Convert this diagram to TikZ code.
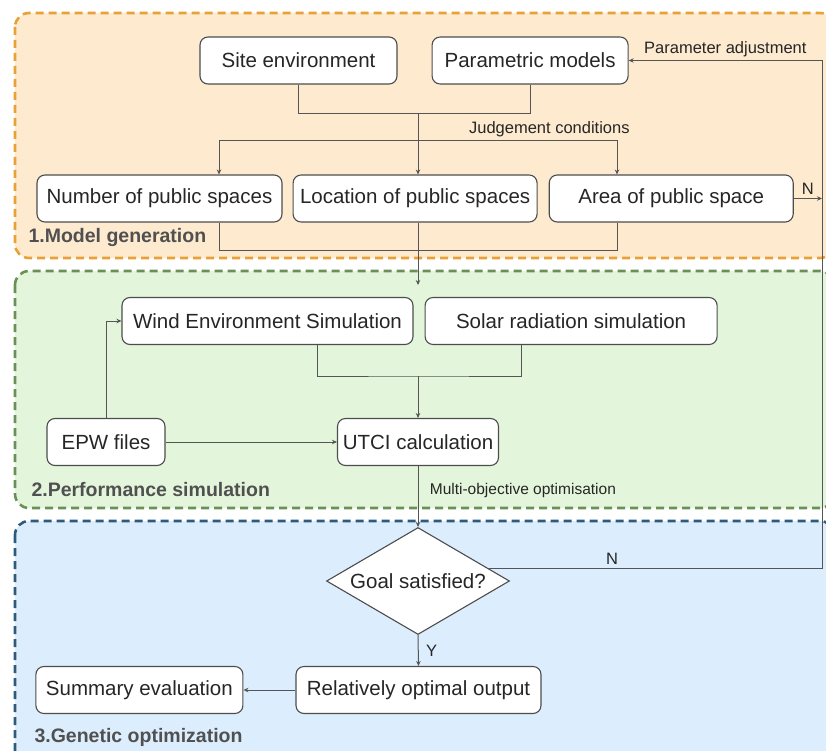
\documentclass[tikz,border=0pt]{standalone}
\usepackage{fontspec}
\setmainfont{Liberation Sans}
\usetikzlibrary{arrows.meta,positioning,shapes.geometric}

\definecolor{orangefill}{HTML}{FDEACF}
\definecolor{orangeline}{HTML}{E8A136}
\definecolor{greenfill}{HTML}{E3F6DB}
\definecolor{greenline}{HTML}{6A9058}
\definecolor{bluefill}{HTML}{DCEEFD}
\definecolor{blueline}{HTML}{2E5A7C}
\definecolor{boxline}{HTML}{4D4D4D}
\definecolor{flowline}{HTML}{555555}
\definecolor{paneltext}{HTML}{505050}

\tikzset{
  block/.style={draw=boxline, line width=1.1pt, rounded corners=8pt, fill=white,
    minimum height=47pt, inner sep=2pt, text=black!85,
    font=\fontsize{20.5}{24}\selectfont},
  decision/.style={diamond, aspect=1.71, draw=boxline, line width=1.1pt, fill=white,
    minimum width=183pt, minimum height=107pt, inner sep=0pt, text=black!85,
    font=\fontsize{20.5}{24}\selectfont},
  panel/.style={line width=2.6pt, dash pattern=on 8pt off 5pt, rounded corners=14pt},
  panellabel/.style={anchor=west, text=paneltext,
    font=\bfseries\fontsize{19.5}{22}\selectfont},
  note/.style={text=black!85, font=\fontsize{16.5}{20}\selectfont},
  flow/.style={draw=flowline, line width=1pt}
}

\begin{document}
\begin{tikzpicture}[x=1pt, y=-1pt, >={Stealth[length=5pt,width=4.5pt]}]
  \useasboundingbox (0,0) rectangle (826,751);

  % stages
  \draw[panel, draw=orangeline, fill=orangefill] (15,13) rectangle (834,258);
  \draw[panel, draw=greenline, fill=greenfill] (15,271) rectangle (834,508);
  \draw[panel, draw=blueline, fill=bluefill] (15,521) rectangle (834,770);
  \node[panellabel] (stage1) at (25,238) {1.Model generation};
  \node[panellabel] (stage2) at (28,490) {2.Performance simulation};
  \node[panellabel] (stage3) at (31,737) {3.Genetic optimization};

  % 1. model generation
  \node[block, minimum width=197pt] (site) at (298.5,60.5) {Site environment};
  \node[block, minimum width=196pt] (param) [right=34pt of site] {Parametric models};
  \node[block, minimum width=245pt] (number) at (159.5,198.5) {Number of public spaces};
  \node[block, minimum width=244pt] (location) [right=10pt of number] {Location of public spaces};
  \node[block, minimum width=244pt] (area) [right=11pt of location] {Area of public space};

  % 2. performance simulation
  \node[block, minimum width=291pt] (wind) at (267.5,321) {Wind Environment Simulation};
  \node[block, minimum width=292pt] (solar) [right=11pt of wind] {Solar radiation simulation};
  \node[block, minimum width=118pt] (epw) at (106,442) {EPW files};
  \node[block, minimum width=161pt] (utci) at (418,442) {UTCI calculation};

  % 3. genetic optimization
  \node[decision] (goal) at (418,581) {Goal satisfied?};
  \node[block, minimum width=245pt] (optout) at (418.5,690) {Relatively optimal output};
  \node[block, minimum width=207pt] (summary) [left=52pt of optout] {Summary evaluation};

  \coordinate (spine) at (418,113);
  \coordinate (jc) at (418,141);
  \coordinate (jl) at (219,141);
  \coordinate (jr) at (617,141);
  \coordinate (bm) at (418,250);
  \coordinate (gin) at (418,285);
  \coordinate (wm) at (418,376);
  \coordinate (fbtop) at (822,60.5);

  \path[flow]
    (site.south) -- ++(0,29) -| (param.south);
  \path[flow, ->]
    (spine) -- (spine |- location.north);
  \path[flow, ->]
    (jc) -| (jl |- number.north);
  \path[flow, ->]
    (jc) -- node[note, above, pos=0.66] {Judgement conditions} (jr) -- (jr |- area.north);
  \path[flow]
    (jl |- number.south) -- (jl |- bm) -- (jr |- bm) -- (jr |- area.south);
  \path[flow, ->]
    (spine |- location.south) -- (gin);
  \path[flow, ->]
    (area.east) -- node[note, above] {N} (area.east -| fbtop);

  \path[flow]
    ([xshift=50pt]wind.south) |- (wm) -| ([xshift=-50pt]solar.south);
  \path[flow, ->]
    (wm) -- (utci.north);
  \path[flow, ->]
    (epw.north) |- (wind.west);
  \path[flow, ->]
    (epw.east) -- (utci.west);
  \path[flow, ->]
    (utci.south) -- node[note, right, pos=0.4, xshift=8pt, font=\fontsize{15.5}{18}\selectfont] {Multi-objective optimisation} (goal.north);

  \path[flow]
    (goal.10) -- node[note, above, pos=0.37] {N} (goal.10 -| fbtop) -- (fbtop);
  \path[flow, ->]
    (fbtop) -- node[note, above] {Parameter adjustment} (param.east);
  \path[flow, ->]
    (goal.south) -- node[note, right, xshift=4pt] {Y} (optout.north);
  \path[flow, ->]
    (optout.west) -- (summary.east);
\end{tikzpicture}
\end{document}
